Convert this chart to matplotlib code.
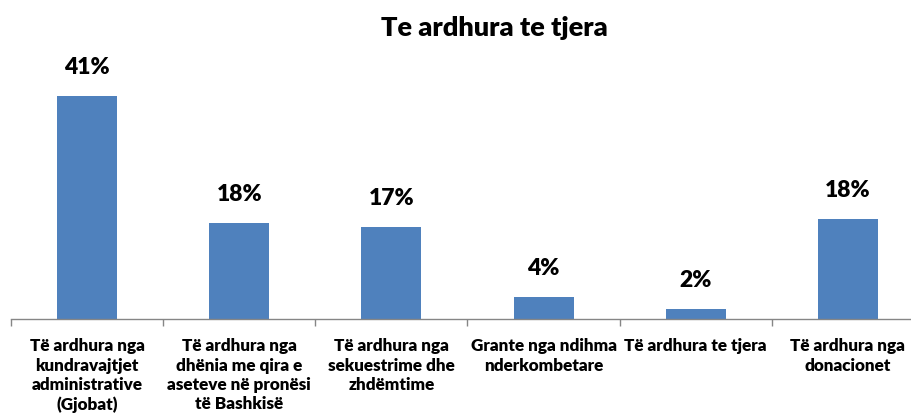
import matplotlib
matplotlib.use("Agg")
import matplotlib.pyplot as plt

title = "Te ardhura te tjera"
categories = [
    "Të ardhura nga\nkundravajtjet\nadministrative\n(Gjobat)",
    "Të ardhura nga\ndhënia me qira e\naseteve në pronësi\ntë Bashkisë",
    "Të ardhura nga\nsekuestrime dhe\nzhdëmtime",
    "Grante nga ndihma\nnderkombetare",
    "Të ardhura te tjera",
    "Të ardhura nga\ndonacionet",
]
values = [41.0, 17.7, 16.9, 4.1, 1.8, 18.3]
value_labels = ["41%", "18%", "17%", "4%", "2%", "18%"]

FONT = ["Lato", "DejaVu Sans"]
plt.rcParams["font.family"] = FONT

W, H = 911, 419
fig = plt.figure(figsize=(W / 100, H / 100), dpi=100)
left_px, right_px, base_px = 11, 924, 319
ymax = 45.0
px_per_unit = 223 / 41.0
top_px = base_px - ymax * px_per_unit
ax = fig.add_axes([left_px / W, 1 - base_px / H, (right_px - left_px) / W, (base_px - top_px) / H])
ax.set_xlim(-0.5, len(categories) - 0.5)
ax.set_ylim(0, ymax)

x = list(range(len(categories)))
ax.bar(x, values, width=0.395, color="#4F81BD", zorder=2)

for xi, v, lab in zip(x, values, value_labels):
    ax.annotate(lab, (xi, v), xytext=(0, 13), textcoords="offset points",
                ha="center", va="bottom", fontsize=16.5, fontweight="heavy", color="black")

for s in ["top", "right", "left"]:
    ax.spines[s].set_visible(False)
ax.spines["bottom"].set_color("#868686")
ax.spines["bottom"].set_linewidth(1.0)
ax.set_yticks([])

ax.set_xticks(x)
ax.set_xticklabels(categories, fontsize=12.3, fontweight="heavy", linespacing=1.25)
ax.tick_params(axis="x", which="major", length=0, pad=14)
ax.set_xticks([i - 0.5 for i in range(len(categories) + 1)], minor=True)
ax.tick_params(axis="x", which="minor", length=5, width=1, color="#868686", direction="out")

fig.text(494 / W, 1 - 28 / H, title, ha="center", va="center", fontsize=19.5, fontweight="heavy")

fig.savefig("out.png", dpi=100)
